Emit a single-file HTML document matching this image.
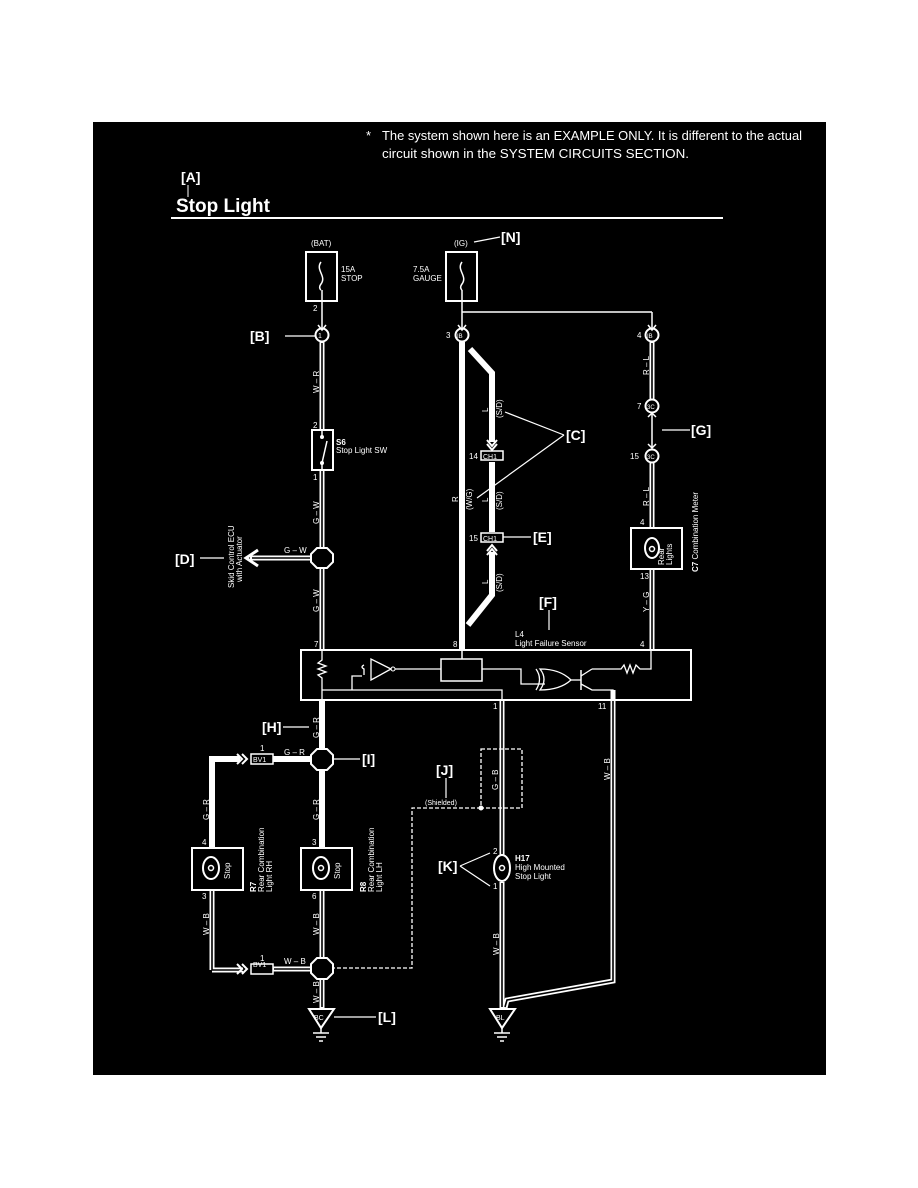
<!DOCTYPE html>
<html><head><meta charset="utf-8"><style>
html,body{margin:0;padding:0;background:#fff;}
svg{display:block;}
text{font-family:"Liberation Sans",sans-serif;fill:#fff;}
</style></head><body>
<svg width="918" height="1188" viewBox="0 0 918 1188" xmlns="http://www.w3.org/2000/svg">
<rect x="0" y="0" width="918" height="1188" fill="#fff"/>
<rect x="93" y="122" width="733" height="953" fill="#000"/>

<!-- header note -->
<text x="366" y="140" font-size="13">*</text>
<text x="382" y="140" font-size="13" textLength="420" lengthAdjust="spacingAndGlyphs">The system shown here is an EXAMPLE ONLY. It is different to the actual</text>
<text x="382" y="158" font-size="13" textLength="307" lengthAdjust="spacingAndGlyphs">circuit shown in the SYSTEM CIRCUITS SECTION.</text>

<text x="181" y="182" font-size="14" font-weight="bold">[A]</text>
<line x1="188" y1="185" x2="188" y2="197" stroke="#fff" stroke-width="1"/>
<text x="176" y="212" font-size="19" font-weight="bold" textLength="94" lengthAdjust="spacingAndGlyphs">Stop Light</text>
<line x1="171" y1="218" x2="723" y2="218" stroke="#fff" stroke-width="2"/>

<g stroke="#fff" fill="none">
<!-- fuses -->
<rect x="306" y="252" width="31" height="49" stroke-width="2"/>
<rect x="446" y="252" width="31" height="49" stroke-width="2"/>
<path d="M321 262 c-6 8 6 14 0 22 c-3 4 0 6 0 6" stroke-width="1.5"/>
<path d="M462 262 c-6 8 6 14 0 22 c-3 4 0 6 0 6" stroke-width="1.5"/>

<!-- BAT wire -->
<line x1="322" y1="290" x2="322" y2="328" stroke-width="1.5"/>
<line x1="462" y1="290" x2="462" y2="328" stroke-width="1.5"/>
<line x1="462" y1="312" x2="652" y2="312" stroke-width="1.5"/>
<line x1="652" y1="312" x2="652" y2="328" stroke-width="1.5"/>

<!-- hollow wires -->
<g stroke-width="5">
<line x1="322" y1="342" x2="322" y2="430"/>
<line x1="322" y1="470" x2="322" y2="650"/>
<line x1="652" y1="342" x2="652" y2="400"/>
<line x1="652" y1="462" x2="652" y2="528"/>
<line x1="652" y1="569" x2="652" y2="650"/>
<line x1="212" y1="890" x2="212" y2="970"/>
<line x1="212" y1="970" x2="243" y2="970"/>
<line x1="273" y1="969" x2="313" y2="969"/>
<line x1="322" y1="890" x2="322" y2="1008"/>
<line x1="502" y1="700" x2="502" y2="855"/>
<line x1="502" y1="882" x2="502" y2="1008"/>
<polyline points="613,690 613,981 507,1000 505,1008"/>
</g>
<g stroke="#000" stroke-width="1.6">
<line x1="322" y1="343" x2="322" y2="429"/>
<line x1="322" y1="471" x2="322" y2="548"/>
<line x1="322" y1="568" x2="322" y2="650"/>
<line x1="652" y1="343" x2="652" y2="399"/>
<line x1="652" y1="463" x2="652" y2="528"/>
<line x1="652" y1="570" x2="652" y2="650"/>
<polyline points="212,891 212,970 243,970"/>
<line x1="274" y1="969" x2="312" y2="969"/>
<line x1="322" y1="891" x2="322" y2="958"/>
<line x1="322" y1="979" x2="322" y2="1007"/>
<line x1="502" y1="701" x2="502" y2="854"/>
<line x1="502" y1="883" x2="502" y2="1007"/>
<polyline points="613,701 613,981 507,1000 505,1007"/>
</g>

<!-- thick solid wires -->
<g stroke-width="6">
<line x1="462" y1="342" x2="462" y2="650"/>
<polyline points="470,349 492,373 492,442"/>
<line x1="492" y1="462" x2="492" y2="532"/>
<polyline points="492,552 492,595 468,625"/>
<line x1="322" y1="700" x2="322" y2="848"/>
<polyline points="212,848 212,759 240,759"/>
<line x1="273" y1="759" x2="313" y2="759"/>
</g>

<!-- D arrow -->
<line x1="250" y1="558" x2="313" y2="558" stroke-width="5"/>
<line x1="252" y1="558" x2="313" y2="558" stroke="#000" stroke-width="1.6"/>
<polyline points="258,550 246,558 258,566" stroke-width="3"/>

<!-- connector circles -->
<circle cx="322" cy="335" r="6.5" stroke-width="2" fill="#000"/>
<circle cx="462" cy="335" r="6.5" stroke-width="2" fill="#000"/>
<circle cx="652" cy="335" r="6.5" stroke-width="2" fill="#000"/>
<circle cx="652" cy="406" r="6.5" stroke-width="2" fill="#000"/>
<circle cx="652" cy="456" r="6.5" stroke-width="2" fill="#000"/>

<!-- arrowheads -->
<polyline points="318,325 322,330 326,325" stroke-width="1.5"/>
<polyline points="458,325 462,330 466,325" stroke-width="1.5"/>
<polyline points="648,325 652,330 656,325" stroke-width="1.5"/>
<polyline points="648,417 652,413 656,417" stroke-width="1.5"/>
<polyline points="648,444 652,448 656,444" stroke-width="1.5"/>
<line x1="652" y1="413" x2="652" y2="448" stroke-width="1.5"/>
<polyline points="487,440 492,446 497,440" stroke-width="2"/>
<polyline points="487,444 492,450 497,444" stroke-width="2"/>
<polyline points="487,551 492,545 497,551" stroke-width="2"/>
<polyline points="487,555 492,549 497,555" stroke-width="2"/>

<!-- CH1 boxes -->
<rect x="481" y="451" width="22" height="9" stroke-width="1.5" fill="#000"/>
<rect x="481" y="533" width="22" height="9" stroke-width="1.5" fill="#000"/>

<!-- switch -->
<rect x="312" y="430" width="21" height="40" stroke-width="2"/>
<line x1="322" y1="437" x2="322" y2="430" stroke-width="1.5"/>
<line x1="322" y1="463" x2="322" y2="470" stroke-width="1.5"/>
<line x1="322" y1="463" x2="327" y2="441" stroke-width="1.5"/>
<circle cx="322" cy="437" r="1.5" fill="#fff"/>
<circle cx="322" cy="463" r="1.5" fill="#fff"/>

<!-- junctions -->
<polygon points="317,548 327,548 333,554 333,562 327,568 317,568 311,562 311,554" stroke-width="2" fill="#000"/>
<polygon points="317,749 327,749 333,755 333,764 327,770 317,770 311,764 311,755" stroke-width="2" fill="#000"/>
<polygon points="317,958 327,958 333,964 333,973 327,979 317,979 311,973 311,964" stroke-width="2" fill="#000"/>

<!-- meter -->
<rect x="631" y="528" width="51" height="41" stroke-width="2"/>
<ellipse cx="652" cy="548" rx="7" ry="10" stroke-width="2"/>
<circle cx="652" cy="549" r="2.5" stroke-width="1.5"/>

<!-- L4 box -->
<rect x="301" y="650" width="390" height="50" stroke-width="2"/>
<polyline points="322,650 322,660 318,663 326,666 318,669 326,672 318,675 322,678 322,700" stroke-width="1.3"/>
<polyline points="322,690 502,690 502,700" stroke-width="1.3"/>
<polyline points="352,690 352,676 362,676" stroke-width="1.3"/>
<path d="M364 665 q-4 2 0 4 l0 6" stroke-width="1.3"/>
<polygon points="371,659 371,680 391,669" stroke-width="1.3"/>
<circle cx="393" cy="669" r="2" stroke-width="1"/>
<line x1="395" y1="669" x2="441" y2="669" stroke-width="1.3"/>
<rect x="441" y="659" width="41" height="22" stroke-width="1.5"/>
<line x1="462" y1="650" x2="462" y2="659" stroke-width="1.5"/>
<polyline points="482,669 521,669 521,684 545,684" stroke-width="1.3"/>
<path d="M540 669 q8 10 0 21 q20 0 31 -10 q-11 -11 -31 -11 z" stroke-width="1.3"/>
<path d="M536 669 q7 10 0 21" stroke-width="1.3"/>
<line x1="571" y1="680" x2="581" y2="680" stroke-width="1.3"/>
<line x1="581" y1="670" x2="581" y2="690" stroke-width="1.5"/>
<line x1="581" y1="676" x2="592" y2="669" stroke-width="1.3"/>
<polyline points="581,684 592,690 613,690 613,700" stroke-width="1.3"/>
<polyline points="592,669 621,669 624,665 627,673 630,665 633,673 636,665 640,669 651,669 651,650" stroke-width="1.3"/>

<!-- BV1 -->
<rect x="251" y="754" width="22" height="10" stroke-width="1.5" fill="#000"/>
<rect x="251" y="964" width="22" height="10" stroke-width="1.5" fill="#000"/>
<polyline points="237,754 242,759 237,764" stroke-width="2"/>
<polyline points="242,754 247,759 242,764" stroke-width="2"/>
<polyline points="237,964 242,969 237,974" stroke-width="2"/>
<polyline points="242,964 247,969 242,974" stroke-width="2"/>

<!-- lamps -->
<rect x="192" y="848" width="51" height="42" stroke-width="2"/>
<rect x="301" y="848" width="51" height="42" stroke-width="2"/>
<ellipse cx="211" cy="868" rx="8" ry="11" stroke-width="2"/>
<ellipse cx="321" cy="868" rx="8" ry="11" stroke-width="2"/>
<ellipse cx="502" cy="868" rx="8" ry="13" stroke-width="2" fill="#000"/>
<circle cx="211" cy="868" r="2.5" stroke-width="1.5"/>
<circle cx="321" cy="868" r="2.5" stroke-width="1.5"/>
<circle cx="502" cy="868" r="2.5" stroke-width="1.5"/>

<!-- shield -->
<rect x="481" y="749" width="41" height="59" stroke-width="1.3" stroke-dasharray="4,2"/>
<polyline points="481,808 412,808 412,968 333,968" stroke-width="1.3" stroke-dasharray="4,2"/>
<circle cx="481" cy="808" r="2" fill="#fff"/>

<!-- grounds -->
<polygon points="309,1009 334,1009 321,1028" stroke-width="2" fill="#000"/>
<polygon points="490,1009 515,1009 502,1028" stroke-width="2" fill="#000"/>
<g stroke-width="1.5">
<line x1="321" y1="1028" x2="321" y2="1033"/><line x1="313" y1="1033" x2="329" y2="1033"/><line x1="316" y1="1037" x2="326" y2="1037"/><line x1="319" y1="1041" x2="323" y2="1041"/>
<line x1="502" y1="1028" x2="502" y2="1033"/><line x1="494" y1="1033" x2="510" y2="1033"/><line x1="497" y1="1037" x2="507" y2="1037"/><line x1="500" y1="1041" x2="504" y2="1041"/>
</g>

<!-- leader lines -->
<g stroke-width="1.2">
<line x1="474" y1="242" x2="500" y2="237"/>
<line x1="285" y1="336" x2="315" y2="336"/>
<line x1="564" y1="435" x2="505" y2="412"/>
<line x1="564" y1="435" x2="477" y2="498"/>
<line x1="503" y1="537" x2="531" y2="537"/>
<line x1="662" y1="430" x2="690" y2="430"/>
<line x1="200" y1="558" x2="224" y2="558"/>
<line x1="549" y1="610" x2="549" y2="630"/>
<line x1="283" y1="727" x2="309" y2="727"/>
<line x1="333" y1="759" x2="360" y2="759"/>
<line x1="446" y1="778" x2="446" y2="798"/>
<line x1="460" y1="866" x2="490" y2="853"/>
<line x1="460" y1="866" x2="490" y2="886"/>
<line x1="334" y1="1017" x2="376" y2="1017"/>
</g>
</g>

<!-- labels -->
<g font-size="8">
<text x="311" y="246">(BAT)</text>
<text x="454" y="246">(IG)</text>
<text x="341" y="272">15A</text><text x="341" y="281">STOP</text>
<text x="413" y="272">7.5A</text><text x="413" y="281">GAUGE</text>
<text x="313" y="311">2</text>
<text x="446" y="338">3</text>
<text x="637" y="338">4</text>
<text x="637" y="409">7</text>
<text x="630" y="459">15</text>
<text x="313" y="428">2</text>
<text x="313" y="480">1</text>
<text x="336" y="445" font-weight="bold">S6</text>
<text x="336" y="453">Stop Light SW</text>
<text x="469" y="459">14</text>
<text x="469" y="541">15</text>
<text x="483" y="459" font-size="7">CH1</text>
<text x="483" y="541" font-size="7">CH1</text>
<text x="318" y="338" font-size="7">1</text>
<text x="457" y="338" font-size="6" fill="#000">IB</text>
<text x="647" y="338" font-size="6" fill="#000">IB</text>
<text x="647" y="409" font-size="6" fill="#000">3C</text>
<text x="647" y="459" font-size="6" fill="#000">3C</text>
<text x="284" y="553">G – W</text>
<text x="640" y="525">4</text>
<text x="640" y="579">13</text>
<text x="314" y="647">7</text>
<text x="453" y="647">8</text>
<text x="640" y="647">4</text>
<text x="515" y="637">L4</text>
<text x="515" y="646">Light Failure Sensor</text>
<text x="493" y="709">1</text>
<text x="598" y="709">11</text>
<text x="260" y="751">1</text>
<text x="260" y="961">1</text>
<text x="284" y="755">G – R</text>
<text x="284" y="964">W – B</text>
<text x="202" y="845">4</text>
<text x="202" y="899">3</text>
<text x="312" y="845">3</text>
<text x="312" y="899">6</text>
<text x="253" y="967" font-size="7">BV1</text>
<text x="253" y="757" font-size="7" dy="5">BV1</text>
<text x="493" y="854">2</text>
<text x="493" y="889">1</text>
<text x="515" y="861" font-weight="bold">H17</text>
<text x="515" y="870">High Mounted</text>
<text x="515" y="879">Stop Light</text>
<text x="425" y="805" font-size="7">(Shielded)</text>
<text x="314" y="1020" font-size="7">BC</text>
<text x="496" y="1020" font-size="7">BL</text>
</g>
<!-- rotated labels -->
<g font-size="8">
<text transform="translate(319,393) rotate(-90)">W – R</text>
<text transform="translate(319,524) rotate(-90)">G – W</text>
<text transform="translate(319,612) rotate(-90)">G – W</text>
<text transform="translate(649,375) rotate(-90)">R – L</text>
<text transform="translate(649,506) rotate(-90)">R – L</text>
<text transform="translate(649,612) rotate(-90)">Y – G</text>
<text transform="translate(488,412) rotate(-90)">L</text>
<text transform="translate(502,418) rotate(-90)">(S/D)</text>
<text transform="translate(458,502) rotate(-90)">R</text>
<text transform="translate(472,510) rotate(-90)">(W/G)</text>
<text transform="translate(488,502) rotate(-90)">L</text>
<text transform="translate(502,510) rotate(-90)">(S/D)</text>
<text transform="translate(488,584) rotate(-90)">L</text>
<text transform="translate(502,592) rotate(-90)">(S/D)</text>
<text transform="translate(234,588) rotate(-90)">Skid Control ECU</text>
<text transform="translate(242,582) rotate(-90)">with Actuator</text>
<text transform="translate(698,572) rotate(-90)"><tspan font-weight="bold">C7</tspan> Combination Meter</text>
<text transform="translate(664,565) rotate(-90)">Rear</text>
<text transform="translate(672,565) rotate(-90)">Lights</text>
<text transform="translate(319,738) rotate(-90)">G – R</text>
<text transform="translate(209,820) rotate(-90)">G – R</text>
<text transform="translate(319,820) rotate(-90)">G – R</text>
<text transform="translate(498,790) rotate(-90)">G – B</text>
<text transform="translate(610,780) rotate(-90)">W – B</text>
<text transform="translate(209,935) rotate(-90)">W – B</text>
<text transform="translate(319,935) rotate(-90)">W – B</text>
<text transform="translate(319,1003) rotate(-90)">W – B</text>
<text transform="translate(499,955) rotate(-90)">W – B</text>
<text transform="translate(230,879) rotate(-90)">Stop</text>
<text transform="translate(340,879) rotate(-90)">Stop</text>
<text transform="translate(256,892) rotate(-90)"><tspan font-weight="bold">R7</tspan></text>
<text transform="translate(264,892) rotate(-90)">Rear Combination</text>
<text transform="translate(272,892) rotate(-90)">Light RH</text>
<text transform="translate(366,892) rotate(-90)"><tspan font-weight="bold">R8</tspan></text>
<text transform="translate(374,892) rotate(-90)">Rear Combination</text>
<text transform="translate(382,892) rotate(-90)">Light LH</text>
</g>
<g font-size="14" font-weight="bold">
<text x="501" y="242">[N]</text>
<text x="250" y="341">[B]</text>
<text x="566" y="440">[C]</text>
<text x="691" y="435">[G]</text>
<text x="533" y="542">[E]</text>
<text x="175" y="564">[D]</text>
<text x="539" y="607">[F]</text>
<text x="262" y="732">[H]</text>
<text x="362" y="764">[I]</text>
<text x="436" y="775">[J]</text>
<text x="438" y="871">[K]</text>
<text x="378" y="1022">[L]</text>
</g>
</svg>
</body></html>
